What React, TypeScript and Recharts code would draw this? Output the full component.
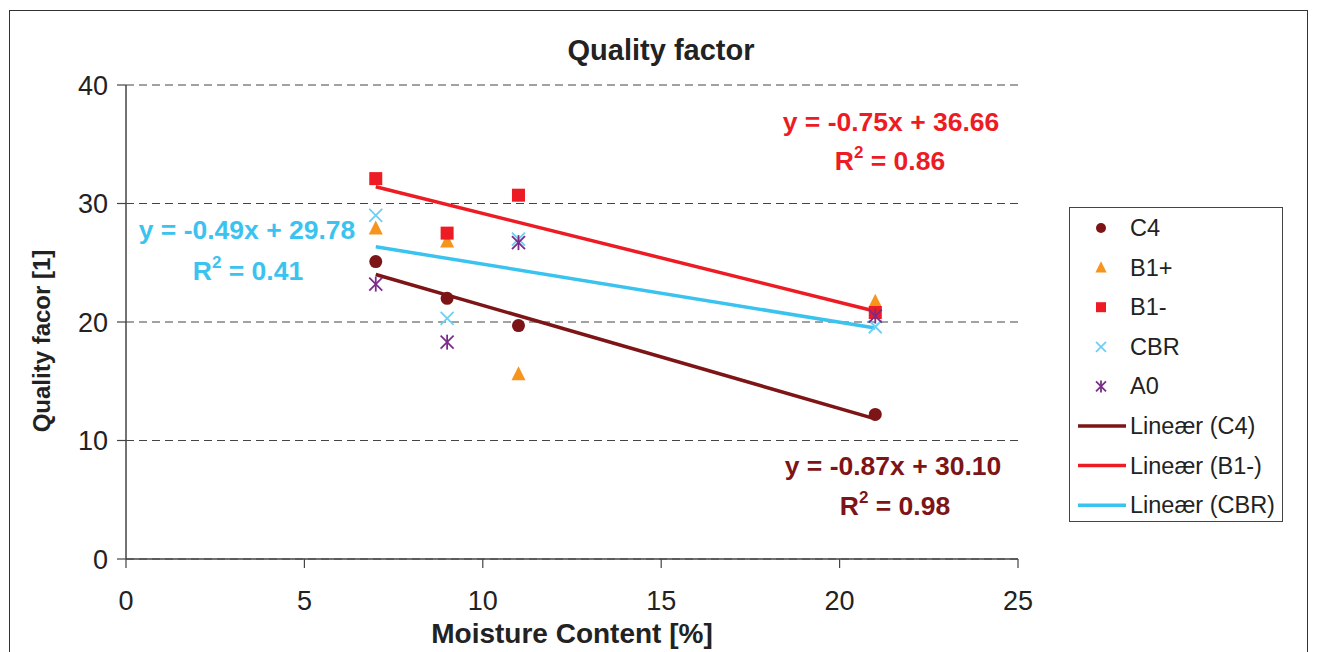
import React from 'react';
import { ScatterChart, Scatter, XAxis, YAxis, CartesianGrid } from 'recharts';

// Moisture content [%] of the samples
const moisture = [7, 9, 11, 21];

// Quality factor per board type
const c4 = [25.1, 22.0, 19.7, 12.2];
const b1Plus = [27.9, 26.8, 15.6, 21.7];
const b1Minus = [32.1, 27.5, 30.7, 20.8];
const cbr = [29.0, 20.3, 27.0, 19.6];
const a0 = [23.2, 18.3, 26.7, 20.5];

// Linear trend line end points
const trendX = [7, 21];
const trendC4 = [24.01, 11.83];
const trendB1Minus = [31.41, 20.91];
const trendCbr = [26.35, 19.49];

const xTicks = [0, 5, 10, 15, 20, 25];
const yTicks = [0, 10, 20, 30, 40];

const legendNames = ['C4', 'B1+', 'B1-', 'CBR', 'A0', 'Lineær (C4)', 'Lineær (B1-)', 'Lineær (CBR)'];

const COLORS = {
  c4: '#7d1416',
  b1Plus: '#f7941d',
  b1Minus: '#ed1c24',
  cbr: '#6dcff6',
  a0: '#7b2c8b',
  cbrTrend: '#3bc3f0',
};

const FONT = '"Liberation Sans", Arial, sans-serif';

const toPoints = (xs: number[], ys: number[]) => xs.map((x, i) => ({ x, y: ys[i] }));

const Circle = ({ cx, cy, fill, r = 6.5 }: any) => <circle cx={cx} cy={cy} r={r} fill={fill} />;
const Triangle = ({ cx, cy, fill, s = 1 }: any) => (
  <polygon points={`${cx},${cy - 8 * s} ${cx - 7 * s},${cy + 6 * s} ${cx + 7 * s},${cy + 6 * s}`} fill={fill} />
);
const Square = ({ cx, cy, fill, s = 6.5 }: any) => <rect x={cx - s} y={cy - s} width={s * 2} height={s * 2} fill={fill} />;
const XMark = ({ cx, cy, fill, s = 6.5 }: any) => (
  <g stroke={fill} strokeWidth={1.8}>
    <line x1={cx - s} y1={cy - s} x2={cx + s} y2={cy + s} />
    <line x1={cx - s} y1={cy + s} x2={cx + s} y2={cy - s} />
  </g>
);
const Asterisk = ({ cx, cy, fill, s = 6.5 }: any) => (
  <g stroke={fill} strokeWidth={1.8}>
    <line x1={cx - s} y1={cy - s} x2={cx + s} y2={cy + s} />
    <line x1={cx - s} y1={cy + s} x2={cx + s} y2={cy - s} />
    <line x1={cx} y1={cy - s - 1} x2={cx} y2={cy + s + 1} />
  </g>
);
const NoShape = () => <g />;

const Legend = () => {
  const rowY = (i: number) => 20 + i * 39.6;
  const markers = [
    <Circle key="m0" cx={31} cy={rowY(0)} fill={COLORS.c4} r={5} />,
    <Triangle key="m1" cx={31} cy={rowY(1)} fill={COLORS.b1Plus} s={0.8} />,
    <Square key="m2" cx={31} cy={rowY(2)} fill={COLORS.b1Minus} s={5} />,
    <XMark key="m3" cx={31} cy={rowY(3)} fill={COLORS.cbr} s={5} />,
    <Asterisk key="m4" cx={31} cy={rowY(4)} fill={COLORS.a0} s={5} />,
    <line key="m5" x1={8} x2={56} y1={rowY(5)} y2={rowY(5)} stroke={COLORS.c4} strokeWidth={3.5} />,
    <line key="m6" x1={8} x2={56} y1={rowY(6)} y2={rowY(6)} stroke={COLORS.b1Minus} strokeWidth={3.5} />,
    <line key="m7" x1={8} x2={56} y1={rowY(7)} y2={rowY(7)} stroke={COLORS.cbrTrend} strokeWidth={3.5} />,
  ];
  return (
    <svg
      width={214}
      height={315}
      style={{ position: 'absolute', left: 1069, top: 207, border: '1px solid #444', boxSizing: 'border-box' }}
    >
      {markers}
      {legendNames.map((name, i) => (
        <text key={name} x={60} y={rowY(i) + 8} fontSize={23.5} fontFamily={FONT} fill="#222">
          {name}
        </text>
      ))}
    </svg>
  );
};

const Overlay = () => (
  <svg width={1317} height={652} style={{ position: 'absolute', left: 0, top: 0, pointerEvents: 'none' }}>
    <text x={661} y={60} textAnchor="middle" fontSize={29} fontWeight="bold" fontFamily={FONT} fill="#222">
      Quality factor
    </text>
    <text x={572} y={643} textAnchor="middle" fontSize={28} fontWeight="bold" fontFamily={FONT} fill="#222">
      Moisture Content [%]
    </text>
    <text
      x={0}
      y={0}
      transform="translate(50 341) rotate(-90)"
      textAnchor="middle"
      fontSize={24}
      fontWeight="bold"
      fontFamily={FONT}
      fill="#222"
    >
      Quality facor [1]
    </text>

    <g fontSize={26.5} fontWeight="bold" fontFamily={FONT} textAnchor="middle">
      <text x={891} y={131} fill={COLORS.b1Minus}>y = -0.75x + 36.66</text>
      <text x={890} y={170} fill={COLORS.b1Minus}>
        R<tspan dy={-12} fontSize={17}>2</tspan>
        <tspan dy={12}> = 0.86</tspan>
      </text>

      <text x={247} y={239} fill={COLORS.cbrTrend}>y = -0.49x + 29.78</text>
      <text x={248} y={280} fill={COLORS.cbrTrend}>
        R<tspan dy={-12} fontSize={17}>2</tspan>
        <tspan dy={12}> = 0.41</tspan>
      </text>

      <text x={893} y={475} fill={COLORS.c4}>y = -0.87x + 30.10</text>
      <text x={895} y={515} fill={COLORS.c4}>
        R<tspan dy={-12} fontSize={17}>2</tspan>
        <tspan dy={12}> = 0.98</tspan>
      </text>
    </g>
  </svg>
);

export default function App() {
  const tickStyle = { fontSize: 27, fontFamily: FONT, fill: '#222' };
  return (
    <div style={{ position: 'fixed', left: 0, top: 0, width: 1317, height: 652, background: '#fff', overflow: 'hidden' }}>
      <div
        style={{
          position: 'absolute',
          left: 9,
          top: 10,
          width: 1299,
          height: 700,
          border: '1.5px solid #333',
          boxSizing: 'border-box',
        }}
      />
      <div style={{ position: 'absolute', left: 0, top: 0 }}>
        <ScatterChart width={1317} height={652} margin={{ top: 85, right: 299, bottom: 33, left: 66 }}>
          <CartesianGrid vertical={false} stroke="#444" strokeDasharray="8 5" horizontalValues={yTicks} />
          <XAxis
            type="number"
            dataKey="x"
            domain={[0, 25]}
            ticks={xTicks}
            height={60}
            tickSize={9}
            tickMargin={23}
            tick={tickStyle}
            axisLine={{ stroke: '#444', strokeWidth: 1.5 }}
            tickLine={{ stroke: '#444', strokeWidth: 1.2 }}
            allowDataOverflow
          />
          <YAxis
            type="number"
            dataKey="y"
            domain={[0, 40]}
            ticks={yTicks}
            width={60}
            tickSize={9}
            tickMargin={9}
            tick={tickStyle}
            axisLine={{ stroke: '#444', strokeWidth: 1.5 }}
            tickLine={{ stroke: '#444', strokeWidth: 1.2 }}
            allowDataOverflow
          />
          <Scatter data={toPoints(trendX, trendC4)} line={{ stroke: COLORS.c4, strokeWidth: 3.5 }} shape={NoShape} isAnimationActive={false} />
          <Scatter data={toPoints(trendX, trendB1Minus)} line={{ stroke: COLORS.b1Minus, strokeWidth: 3.5 }} shape={NoShape} isAnimationActive={false} />
          <Scatter data={toPoints(trendX, trendCbr)} line={{ stroke: COLORS.cbrTrend, strokeWidth: 3.5 }} shape={NoShape} isAnimationActive={false} />

          <Scatter data={toPoints(moisture, c4)} fill={COLORS.c4} shape={Circle} isAnimationActive={false} />
          <Scatter data={toPoints(moisture, b1Plus)} fill={COLORS.b1Plus} shape={Triangle} isAnimationActive={false} />
          <Scatter data={toPoints(moisture, b1Minus)} fill={COLORS.b1Minus} shape={Square} isAnimationActive={false} />
          <Scatter data={toPoints(moisture, cbr)} fill={COLORS.cbr} shape={XMark} isAnimationActive={false} />
          <Scatter data={toPoints(moisture, a0)} fill={COLORS.a0} shape={Asterisk} isAnimationActive={false} />
        </ScatterChart>
      </div>
      <Overlay />
      <Legend />
    </div>
  );
}
